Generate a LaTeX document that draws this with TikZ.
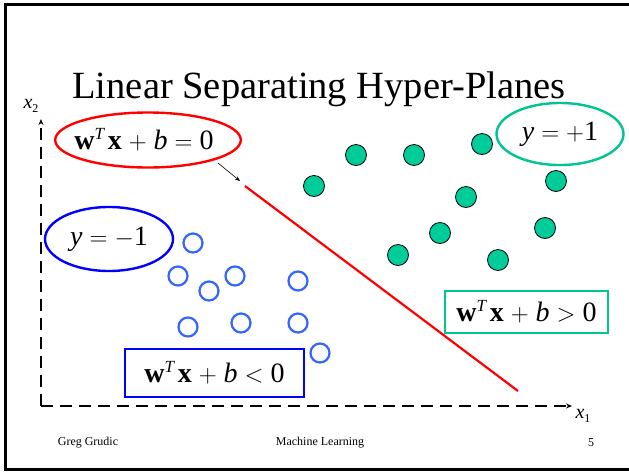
\documentclass[tikz,border=0pt]{standalone}
\usepackage{fontspec}
\setmainfont{Liberation Serif}
\usetikzlibrary{shapes.geometric,arrows.meta}
\definecolor{teal1}{RGB}{0,204,153}
\definecolor{teal2}{RGB}{0,196,145}
\definecolor{ublue}{RGB}{0,0,255}
\definecolor{cblue}{RGB}{51,102,255}
\newcommand{\opgap}{\hspace{0.25em}}
\newcommand{\wtx}{\textbf{w}\raisebox{0.8ex}{\fontsize{17}{17}\selectfont\textit{T}}\hspace{0.1em}\textbf{x}\opgap$+$\opgap\textit{b}}
\begin{document}
\begin{tikzpicture}[x=1pt,y=-1pt,
  eq/.style={font=\fontsize{28}{30}\selectfont},
  oval/.style={ellipse,line width=2.4pt,inner sep=0pt},
  bbox/.style={rectangle,line width=2.4pt,inner sep=0pt},
  negpt/.style={circle,draw=cblue,line width=2.2pt,minimum size=19pt,inner sep=0pt},
  pospt/.style={circle,draw=black,fill=teal1,line width=0.8pt,minimum size=21pt,inner sep=0pt},
  axis/.style={line width=1.8pt,dash pattern=on 12pt off 7pt,-{Stealth[length=6pt,width=5pt]}},
  foot/.style={font=\fontsize{12}{14}\selectfont}]
\useasboundingbox (0,0) rectangle (629,475);
\fill[white] (0,0) rectangle (629,475);
% slide frame
\draw[line width=3pt] (629,4) -- (5,4) -- (5,469) -- (629,469);
% title
\node[font=\fontsize{38.5}{40}\selectfont,anchor=base] (title) at (319,98) {Linear Separating Hyper-Planes};
% axes
\coordinate (origin) at (41,406);
\coordinate (ytop) at (41,119);
\coordinate (xend) at (572,406);
\draw[axis] (origin) -- (ytop);
\draw[axis] (origin) -- (xend);
\node[font=\fontsize{20}{20}\selectfont] (x2) at (31,106) {\textit{x}\raisebox{-0.35ex}{\fontsize{12}{12}\selectfont 2}};
\node[font=\fontsize{20}{20}\selectfont] (x1) at (583,416) {\textit{x}\raisebox{-0.35ex}{\fontsize{12}{12}\selectfont 1}};
% separating line
\coordinate (ls) at (245,186);
\coordinate (le) at (518,391);
\draw[red,line width=2.2pt] (ls) -- (le);
% labels
\node[oval,draw=red,minimum width=185pt,minimum height=55pt,eq] (eqz) at (148,140) {\hspace{-8pt}\wtx\opgap$=$\opgap0};
\coordinate (ptr) at (240,181);
\coordinate (ptrs) at (218,163);
\draw[line width=0.6pt,-{Stealth[length=5pt,width=4pt]}] (ptrs) -- (ptr);
\node[oval,draw=ublue,minimum width=128pt,minimum height=64pt,eq] (yneg) at (109,239) {\textit{y}\opgap$=$\opgap$-$1};
\node[oval,draw=teal2,minimum width=127pt,minimum height=62pt,eq] (ypos) at (560,134) {\textit{y}\opgap$=$\opgap$+$1};
\node[bbox,draw=ublue,minimum width=179pt,minimum height=48pt,eq] (lt) at (214.5,373) {\wtx\opgap$<$\opgap0};
\node[bbox,draw=teal2,minimum width=163pt,minimum height=42pt,eq] (gt) at (526.5,312) {\wtx\opgap$>$\opgap0};
% negative points
\foreach \i/\p in {1/{(193,243)},2/{(178,276)},3/{(209,291)},4/{(235,276)},5/{(298,281)},6/{(188,327)},7/{(241,323)},8/{(298,323)},9/{(320,353)}}
  \node[negpt] (n\i) at \p {};
% positive points
\foreach \i/\p in {1/{(356,155)},2/{(414,155)},3/{(482,144)},4/{(314,186)},5/{(556,181)},6/{(466,197)},7/{(440,233)},8/{(545,228)},9/{(398,255)},10/{(498,260)}}
  \node[pospt] (p\i) at \p {};
% footer
\node[foot] (f1) at (88,443) {Greg Grudic};
\node[foot] (f2) at (320,443) {Machine Learning};
\node[foot] (f3) at (591,443) {5};
\end{tikzpicture}
\end{document}
